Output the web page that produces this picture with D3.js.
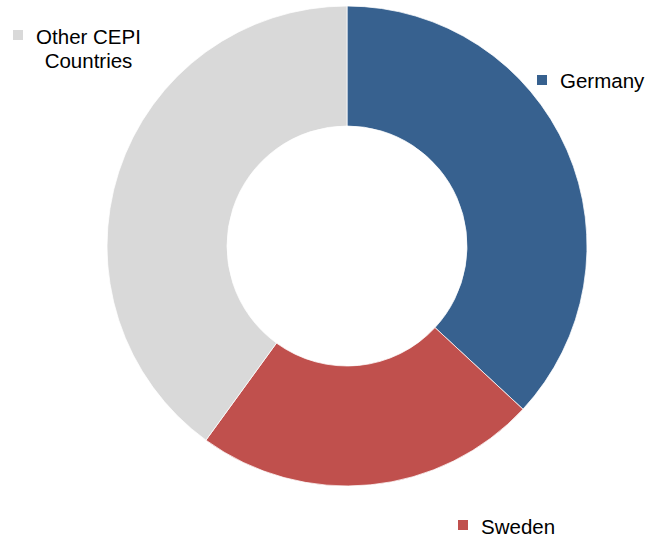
<!DOCTYPE html>
<html>
<head>
<meta charset="utf-8">
<script src="https://cdn.jsdelivr.net/npm/d3@7"></script>
<style>
  body { margin: 0; background: #fff; }
</style>
</head>
<body>
<div id="chart"></div>
<script>
const countries = ["Germany", "Sweden", "Other CEPI Countries"];
const shares = [36.9, 23.1, 40.0];
const colours = ["#37618f", "#c0504d", "#d9d9d9"];

const width = 661, height = 539;
const cx = 347, cy = 246;
const outerR = 240, innerR = 120;

const svg = d3.select("#chart").append("svg")
  .attr("width", width)
  .attr("height", height);

const data = countries.map((c, i) => ({country: c, share: shares[i]}));

const color = d3.scaleOrdinal()
  .domain(countries)
  .range(colours);

const pie = d3.pie()
  .sort(null)
  .value(d => d.share);

const arc = d3.arc()
  .innerRadius(innerR)
  .outerRadius(outerR);

const g = svg.append("g")
  .attr("transform", `translate(${cx}, ${cy})`);

g.selectAll("path")
  .data(pie(data))
  .join("path")
  .attr("d", arc)
  .attr("fill", d => color(d.data.country))
  .attr("stroke", "#fff")
  .attr("stroke-width", 0.75);

// legend entries placed around the ring
const legend = [
  {country: "Germany", x: 537, y: 75, lines: ["Germany"], anchor: "start", tx: 560, base: 88},
  {country: "Sweden", x: 458, y: 520, lines: ["Sweden"], anchor: "start", tx: 481, base: 534},
  {country: "Other CEPI Countries", x: 13, y: 30, lines: ["Other CEPI", "Countries"], anchor: "middle", tx: 88.5, base: 44}
];

const items = svg.selectAll(".legendItem")
  .data(legend)
  .join("g")
  .attr("class", "legendItem");

items.append("rect")
  .attr("x", d => d.x)
  .attr("y", d => d.y)
  .attr("width", 10)
  .attr("height", 10)
  .attr("fill", d => color(d.country));

items.append("text")
  .attr("text-anchor", d => d.anchor)
  .attr("font-family", "Liberation Sans, Arial, sans-serif")
  .attr("font-size", "20.5px")
  .attr("fill", "#000")
  .selectAll("tspan")
  .data(d => d.lines.map((l, i) => ({l, i, d})))
  .join("tspan")
  .attr("x", t => t.d.tx)
  .attr("y", t => t.d.base + t.i * 24)
  .text(t => t.l);
</script>
</body>
</html>
